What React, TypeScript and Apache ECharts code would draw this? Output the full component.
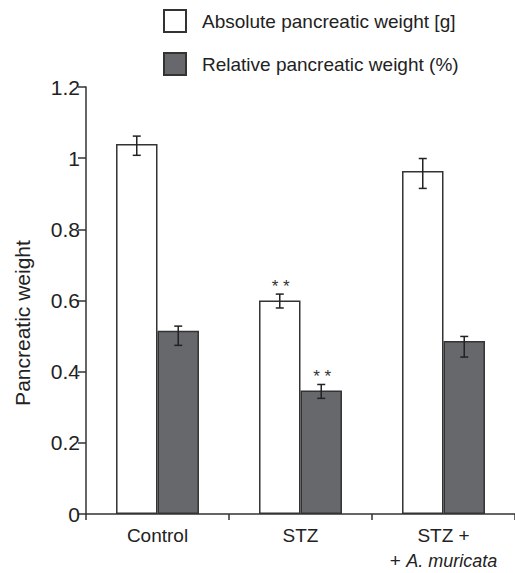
import React, { useEffect, useRef } from "react";
import * as echarts from "echarts";

const categories = ["Control", "STZ", "STZ +\n+ {i|A. muricata}"];
const seriesNames = ["Absolute pancreatic weight [g]", "Relative pancreatic weight (%)"];
const absoluteValues = [1.04, 0.6, 0.964];
const absoluteErrLow = [1.008, 0.579, 0.915];
const absoluteErrHigh = [1.062, 0.618, 0.999];
const relativeValues = [0.515, 0.347, 0.486];
const relativeErrLow = [0.474, 0.325, 0.441];
const relativeErrHigh = [0.528, 0.364, 0.499];
const absoluteMarks = ["", "* *", ""];
const relativeMarks = ["", "* *", ""];
const yTicks = { min: 0, max: 1.2, interval: 0.2 };

const FONT = "'Liberation Sans Narrow', 'Arial Narrow', 'Liberation Sans', sans-serif";
const INK = "#333333";
const DARK = "#67686b";

export default function App() {
  const ref = useRef<HTMLDivElement>(null);
  useEffect(() => {
    document.body.style.margin = "0";
    const chart = echarts.init(ref.current!, null, { renderer: "svg" });
    const errData = (low: number[], high: number[], marks: string[]) =>
      low.map((l, i) => [i, l, high[i], marks[i]]);
    const makeErr = (name: string, sign: number, low: number[], high: number[], marks: string[]) => ({
      type: "custom",
      name: name + " err",
      z: 5,
      renderItem: (params: any, api: any) => {
        const idx = api.value(0);
        const band = api.size([1, 0])[0];
        const off = sign * band * 0.145;
        const top = api.coord([idx, api.value(2)]);
        const bot = api.coord([idx, api.value(1)]);
        const x = top[0] + off;
        const cap = 4;
        const style = { stroke: "#222", lineWidth: 1.5 };
        const children: any[] = [
          { type: "line", shape: { x1: x, y1: top[1], x2: x, y2: bot[1] }, style },
          { type: "line", shape: { x1: x - cap, y1: top[1], x2: x + cap, y2: top[1] }, style },
          { type: "line", shape: { x1: x - cap, y1: bot[1], x2: x + cap, y2: bot[1] }, style },
        ];
        const mark = marks[idx];
        if (mark) {
          children.push({
            type: "text",
            style: {
              text: mark,
              x: x + 1,
              y: top[1] - 8,
              align: "center",
              verticalAlign: "middle",
              font: "17px 'Liberation Sans', sans-serif",
              fill: "#333",
            },
          });
        }
        return { type: "group", children };
      },
      data: errData(low, high, marks),
      tooltip: { show: false },
    });
    chart.setOption({
      animation: false,
      grid: { left: 86, right: -16, top: 87, bottom: 55, containLabel: false },
      legend: {
        orient: "vertical",
        left: 163,
        top: 9,
        padding: 0,
        itemWidth: 22,
        itemHeight: 22,
        itemGap: 19,
        icon: "rect",
        data: seriesNames,
        textStyle: { fontFamily: FONT, fontSize: 19, color: "#222", padding: [0, 0, 0, 11] },
      },
      xAxis: {
        type: "category",
        data: categories,
        axisLine: { lineStyle: { color: INK, width: 1.5 } },
        axisTick: { show: true, length: 6, lineStyle: { color: INK, width: 1.5 } },
        axisLabel: {
          fontFamily: FONT,
          fontSize: 19,
          color: "#222",
          margin: 9,
          lineHeight: 25,
          interval: 0,
          rich: { i: { fontStyle: "italic", fontFamily: FONT, fontSize: 18, color: "#222" } },
        },
      },
      yAxis: {
        type: "value",
        min: yTicks.min,
        max: yTicks.max,
        interval: yTicks.interval,
        splitLine: { show: false },
        axisLine: { show: true, lineStyle: { color: INK, width: 1.5 } },
        axisTick: { show: true, length: 8, lineStyle: { color: INK, width: 1.5 } },
        axisLabel: { fontFamily: FONT, fontSize: 21, color: "#222", margin: 6 },
      },
      graphic: [
        {
          type: "text",
          x: 22,
          y: 323,
          rotation: Math.PI / 2,
          style: {
            text: "Pancreatic weight",
            font: `21px ${FONT}`,
            fill: "#222",
            align: "center",
            verticalAlign: "middle",
          },
        },
      ],
      series: [
        {
          type: "bar",
          name: seriesNames[0],
          data: absoluteValues,
          barGap: "0%",
          barCategoryGap: "42%",
          itemStyle: { color: "#ffffff", borderColor: INK, borderWidth: 1.5 },
        },
        {
          type: "bar",
          name: seriesNames[1],
          data: relativeValues,
          itemStyle: { color: DARK, borderColor: INK, borderWidth: 1.5 },
        },
        makeErr(seriesNames[0], -1, absoluteErrLow, absoluteErrHigh, absoluteMarks),
        makeErr(seriesNames[1], 1, relativeErrLow, relativeErrHigh, relativeMarks),
      ],
    });
    return () => chart.dispose();
  }, []);
  return <div ref={ref} style={{ width: 515, height: 573 }} />;
}
